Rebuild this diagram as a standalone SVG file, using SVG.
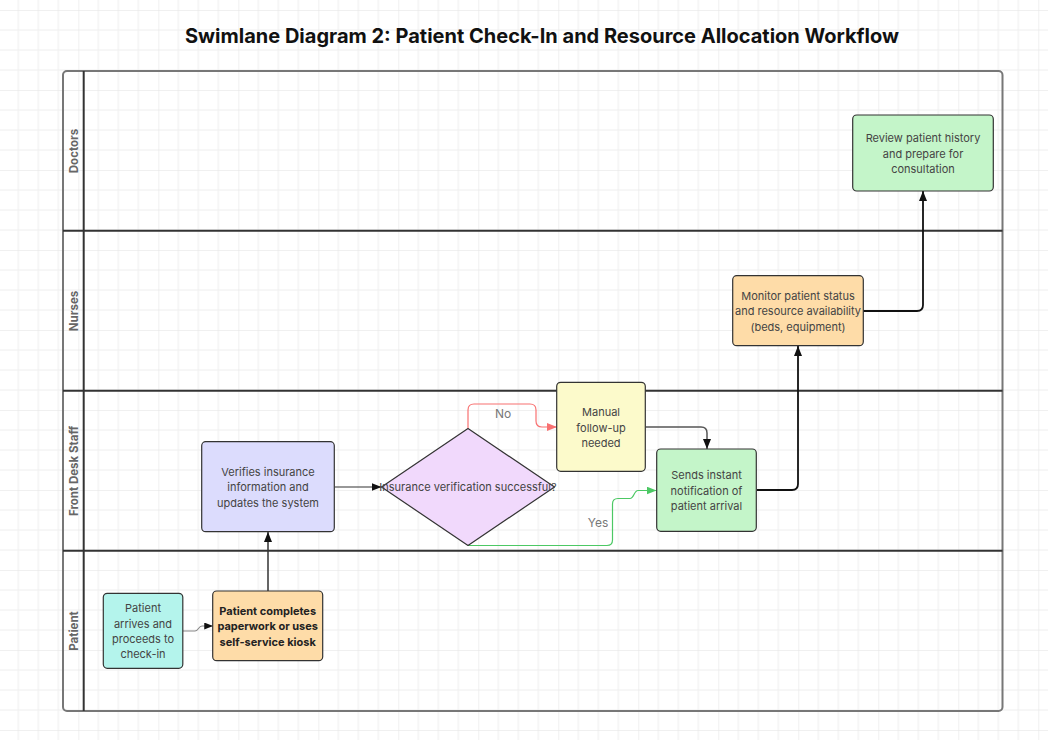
<svg xmlns="http://www.w3.org/2000/svg" width="1048" height="740" viewBox="0 0 1048 740">
<defs>
<pattern id="grid" x="78.3" y="10" width="80" height="80" patternUnits="userSpaceOnUse">
<path d="M20,0V80M40,0V80M60,0V80M0,20H80M0,40H80M0,60H80" stroke="#eeeeee" stroke-width="1" fill="none"/>
<path d="M0,0V80M0,0H80" stroke="#e2e2e2" stroke-width="1" fill="none"/>
</pattern>
<marker id="ah" viewBox="0 0 10 8" refX="10" refY="4" markerWidth="10" markerHeight="8" markerUnits="userSpaceOnUse" orient="auto"><path d="M0,0L10,4L0,8z" fill="#111"/></marker>
<marker id="ahs" viewBox="0 0 10 8" refX="10" refY="4" markerWidth="9" markerHeight="7" markerUnits="userSpaceOnUse" orient="auto"><path d="M0,0L10,4L0,8z" fill="#111"/></marker>
<marker id="ahr" viewBox="0 0 10 8" refX="10" refY="4" markerWidth="10" markerHeight="8" markerUnits="userSpaceOnUse" orient="auto"><path d="M0,0L10,4L0,8z" fill="#f87171"/></marker>
<marker id="ahg" viewBox="0 0 10 8" refX="10" refY="4" markerWidth="10" markerHeight="8" markerUnits="userSpaceOnUse" orient="auto"><path d="M0,0L10,4L0,8z" fill="#4cc864"/></marker>
</defs>
<style>
.title{font-family:Inter,"Liberation Sans",sans-serif;font-size:20px;font-weight:700;fill:#111}
.lane{font-family:Inter,"Liberation Sans",sans-serif;font-size:11.5px;font-weight:700;fill:#666}
.box{stroke:#333;stroke-width:1.2}
.t{font-family:Inter,"Liberation Sans",sans-serif;font-size:11px;fill:#444;text-anchor:middle;dominant-baseline:central}
.tb{font-weight:700;fill:#222}
.lbl{font-family:Inter,"Liberation Sans",sans-serif;font-size:12px;fill:#777;text-anchor:middle;dominant-baseline:central}
.conn{fill:none}
</style>
<rect width="1048" height="740" fill="#ffffff"/>
<rect width="1048" height="740" fill="url(#grid)"/>
<text class="title" x="542" y="43" text-anchor="middle">Swimlane Diagram 2: Patient Check-In and Resource Allocation Workflow</text>

<g id="swimlanes">
<rect x="63" y="71" width="939.5" height="640" rx="4" fill="none" stroke="#777" stroke-width="2"/>
<line x1="83.7" y1="71" x2="83.7" y2="711" stroke="#333" stroke-width="2"/>
<line x1="63" y1="230.7" x2="1002.5" y2="230.7" stroke="#333" stroke-width="2"/>
<line x1="63" y1="390.7" x2="1002.5" y2="390.7" stroke="#333" stroke-width="2"/>
<line x1="63" y1="550.7" x2="1002.5" y2="550.7" stroke="#333" stroke-width="2"/>
<text class="lane" transform="translate(77.5,151) rotate(-90)" text-anchor="middle">Doctors</text>
<text class="lane" transform="translate(77.5,311) rotate(-90)" text-anchor="middle">Nurses</text>
<text class="lane" transform="translate(77.5,471) rotate(-90)" text-anchor="middle">Front Desk Staff</text>
<text class="lane" transform="translate(77.5,631) rotate(-90)" text-anchor="middle">Patient</text>
</g>

<g id="connectors">
<path class="conn" d="M183,631 L195,631 C198.5,631 198.5,626 202,626 L213,626" stroke="#888" stroke-width="1.2" marker-end="url(#ahs)"/>
<path class="conn" d="M268,591 L268,532" stroke="#333" stroke-width="1.5" marker-end="url(#ah)"/>
<path class="conn" d="M334.5,487 L381.5,487" stroke="#333" stroke-width="1.2" marker-end="url(#ah)"/>
<path class="conn" d="M468,428.5 L468,410 Q468,404 474,404 L530,404 Q536,404 536,410 L536,421 Q536,427 542,427 L557,427" stroke="#f87171" stroke-width="1.2" marker-end="url(#ahr)"/>
<text class="lbl" x="503" y="413">No</text>
<path class="conn" d="M645.5,427 L701,427 Q707,427 707,433 L707,449" stroke="#555" stroke-width="1.5" marker-end="url(#ah)"/>
<path class="conn" d="M468,545.5 L607,545.5 Q612.5,545.5 612.5,540 L612.5,504 Q612.5,498.5 618,498.5 L630,498.5 C634,498.5 634,490.5 638,490.5 L656.5,490.5" stroke="#4cc864" stroke-width="1.2" marker-end="url(#ahg)"/>
<text class="lbl" x="598" y="522">Yes</text>
<path class="conn" d="M757,490 L792,490 Q798,490 798,484 L798,346" stroke="#111" stroke-width="1.8" marker-end="url(#ah)"/>
<path class="conn" d="M863,311 L917,311 Q923,311 923,305 L923,191" stroke="#111" stroke-width="1.8" marker-end="url(#ah)"/>
</g>

<g id="node-patient-arrives">
<rect class="box" x="103.3" y="593.3" width="79.5" height="75" rx="4" fill="#b4f4ec"/>
<text class="t" x="143" y="608.3">Patient</text>
<text class="t" x="143" y="623.5">arrives and</text>
<text class="t" x="143" y="638.8">proceeds to</text>
<text class="t" x="143" y="654.3">check-in</text>
</g>

<g id="node-patient-completes">
<rect class="box" x="212.7" y="591" width="110" height="69.7" rx="4" fill="#fedca8"/>
<text class="t tb" x="267.7" y="611">Patient completes</text>
<text class="t tb" x="267.7" y="626.3">paperwork or uses</text>
<text class="t tb" x="267.7" y="641.7">self-service kiosk</text>
</g>

<g id="node-verifies">
<rect class="box" x="201.7" y="441.7" width="132.6" height="90" rx="4" fill="#dcdcfd"/>
<text class="t" x="268" y="471.7">Verifies insurance</text>
<text class="t" x="268" y="487.3">information and</text>
<text class="t" x="268" y="502.7">updates the system</text>
</g>

<g id="node-decision">
<polygon class="box" points="381.5,487 468,428.5 554.5,487 468,545.5" fill="#f1d9fc" stroke-linejoin="round"/>
<text class="t" x="468" y="487">Insurance verification successful?</text>
</g>

<g id="node-manual">
<rect class="box" x="556.7" y="382.3" width="88.6" height="89" rx="4" fill="#fcfacb"/>
<text class="t" x="601" y="412.3">Manual</text>
<text class="t" x="601" y="427.7">follow-up</text>
<text class="t" x="601" y="442.7">needed</text>
</g>

<g id="node-sends">
<rect class="box" x="656.7" y="449" width="99.6" height="82.3" rx="4" fill="#c4f5c9"/>
<text class="t" x="706.5" y="475.3">Sends instant</text>
<text class="t" x="706.5" y="490.7">notification of</text>
<text class="t" x="706.5" y="506">patient arrival</text>
</g>

<g id="node-monitor">
<rect class="box" x="732.7" y="275.7" width="130.6" height="70" rx="4" fill="#fedca8"/>
<text class="t" x="798" y="295.7">Monitor patient status</text>
<text class="t" x="798" y="311.3">and resource availability</text>
<text class="t" x="798" y="326.7">(beds, equipment)</text>
</g>

<g id="node-review">
<rect class="box" x="852.7" y="115" width="140.6" height="76" rx="4" fill="#c4f5c9"/>
<text class="t" x="923" y="138.3">Review patient history</text>
<text class="t" x="923" y="153.5">and prepare for</text>
<text class="t" x="923" y="169">consultation</text>
</g>
</svg>
